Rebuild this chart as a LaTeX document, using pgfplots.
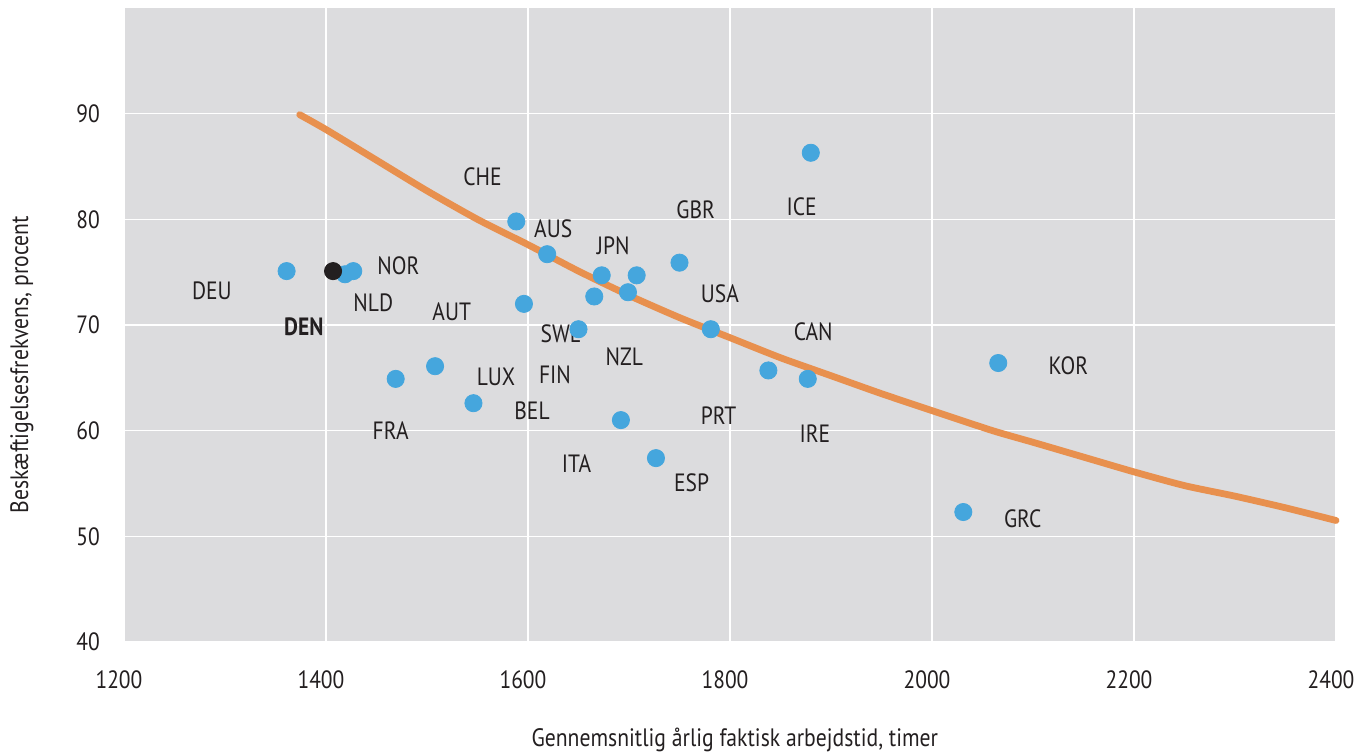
\documentclass[border=0pt]{standalone}
\usepackage{fontspec}
\setmainfont{PT Sans}[FakeStretch=0.86]
\usepackage{pgfplots}
\pgfplotsset{compat=1.18}
\definecolor{bggray}{HTML}{DCDCDE}
\definecolor{dotblue}{HTML}{45A6DD}
\definecolor{curveorange}{HTML}{E8904E}
\definecolor{txt}{HTML}{231F20}
\begin{document}
\begin{tikzpicture}
\begin{axis}[
  name=main,
  scale only axis,
  width=606pt, height=317pt,
  xmin=1200, xmax=2400, ymin=40, ymax=100,
  xtick={1200,1400,...,2400},
  ytick={40,50,...,90},
  grid=major,
  major grid style={white, line width=0.8pt},
  axis line style={draw=none},
  major tick length=0pt,
  axis background/.style={fill=bggray},
  /pgf/number format/assume math mode=true,
  /pgf/number format/1000 sep={},
  tick label style={font=\fontsize{12.5}{14}\selectfont, text=txt},
  xticklabel style={yshift=-11pt, xshift=-2.5pt},
  yticklabel style={xshift=-8.5pt},
  xlabel={Gennemsnitlig årlig faktisk arbejdstid, timer},
  ylabel={Beskæftigelsesfrekvens, procent},
  xlabel style={at={(axis description cs:0.504,-0.155)}, anchor=center, font=\fontsize{12.6}{14}\selectfont, text=txt},
  ylabel style={at={(axis description cs:-0.0842,0.437)}, anchor=center, rotate=0, font=\fontsize{12.6}{14}\selectfont, text=txt},
  clip=false,
]
% trend curve
\addplot[curveorange, line width=3.4pt, no marks, line cap=round, smooth, tension=0.4] coordinates {
(1374,89.9) (1400,88.5) (1450,85.6) (1500,82.7) (1550,80.0) (1600,77.6)
(1650,75.1) (1700,72.8) (1750,70.7) (1800,68.8) (1850,66.9) (1900,65.2)
(1950,63.5) (2000,61.9) (2060,60.0) (2100,58.9) (2150,57.5) (2200,56.1)
(2250,54.8) (2300,53.8) (2350,52.7) (2400,51.5)
};
% countries
\addplot[only marks, mark=*, mark size=4.3pt, color=dotblue] coordinates {
(1361,75.1) (1427,75.1) (1418.8,74.8) (1469,64.9) (1508,66.1) (1546,62.6)
(1588.4,79.8) (1619,76.7) (1596,72.0) (1650,69.6) (1665.6,72.7) (1673,74.7)
(1699,73.1) (1707.6,74.7) (1750,75.9) (1781,69.6) (1838,65.7) (1877,64.9)
(1692,61.0) (1726.7,57.4) (1880,86.3) (2065.6,66.4) (2031,52.3)
};
% Denmark
\addplot[only marks, mark=*, mark size=4.3pt, color=txt] coordinates {
(1407,75.1)
};
\begin{scope}[every node/.style={font=\fontsize{12.5}{14}\selectfont, text=txt, inner sep=0pt}]
\node at (1287,73.2) {DEU};
\node at (1378,69.8) {\bfseries DEN};
\node at (1446.8,72.1) {NLD};
\node at (1471.6,75.6) {NOR};
\node at (1524.5,71.3) {AUT};
\node at (1464,60.0) {FRA};
\node at (1568.3,65.1) {LUX};
\node at (1604,61.9) {BEL};
\node at (1555,84.0) {CHE};
\node at (1625,79.1) {AUS};
\node at (1632.7,69.2) {SWE};
\node at (1626.7,65.3) {FIN};
\node at (1684.5,77.5) {JPN};
\node at (1695.4,67.0) {NZL};
\node at (1648,56.9) {ITA};
\node at (1762,55.1) {ESP};
\node at (1766,80.9) {GBR};
\node at (1871,81.2) {ICE};
\node at (1790,73.0) {USA};
\node at (1882.5,69.4) {CAN};
\node at (1788.8,61.4) {PRT};
\node at (1884,59.7) {IRE};
\node at (2135,66.1) {KOR};
\node at (2089.8,51.7) {GRC};
\end{scope}
\end{axis}
\pgfresetboundingbox
\useasboundingbox ([xshift=-62pt,yshift=-55.5pt]main.south west) rectangle ([xshift=10pt,yshift=4pt]main.north east);
\end{tikzpicture}
\end{document}
